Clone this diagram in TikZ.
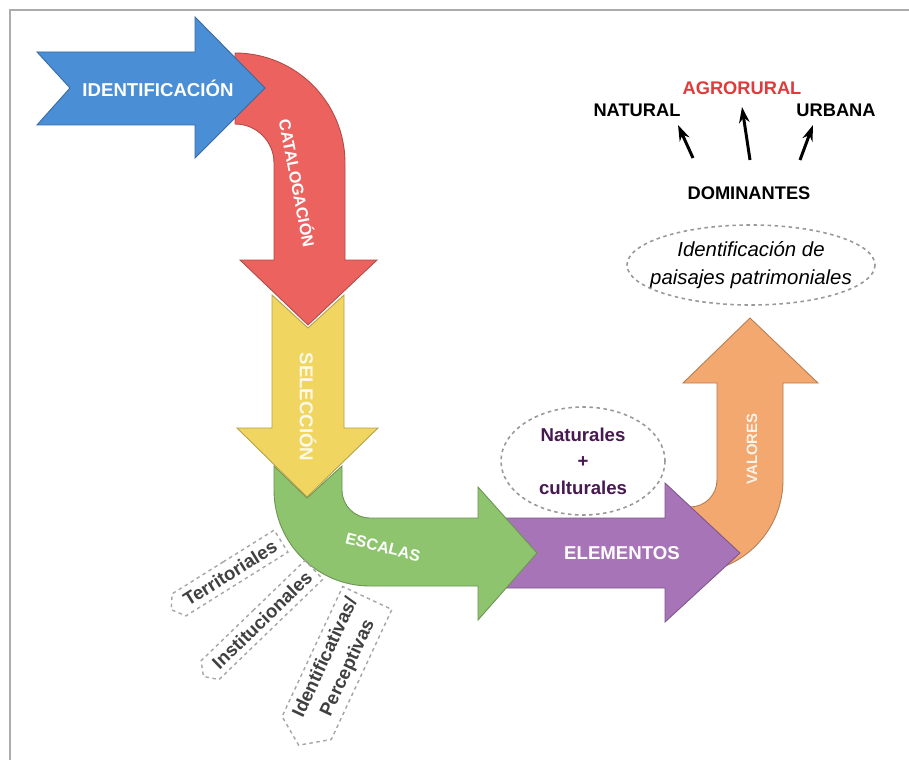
\documentclass[tikz,border=0pt]{standalone}
\usepackage{fontspec}
\setmainfont{Liberation Sans}
\usepackage{xcolor}
\usepackage{tikz}
\usetikzlibrary{arrows.meta,calc,shapes.symbols}

\definecolor{azul}{RGB}{74,142,214}
\definecolor{rojo}{RGB}{236,98,94}
\definecolor{amarillo}{RGB}{240,214,96}
\definecolor{verde}{RGB}{143,196,110}
\definecolor{morado}{RGB}{168,116,184}
\definecolor{naranja}{RGB}{242,168,110}
\definecolor{moradotexto}{RGB}{70,25,80}
\definecolor{rojotexto}{RGB}{222,60,60}

\begin{document}
\begin{tikzpicture}[x=0.02cm, y=-0.02cm,
            paso/.style={draw=#1!75!black, fill=#1, line width=0.5pt},
            rotulo/.style={text=white, font=\fontsize{10.6}{12}\selectfont\bfseries},
            tipo/.style={font=\fontsize{10.4}{12}\selectfont\bfseries},
            escala/.style={signal, signal to=west, signal pointer angle=110, draw=gray!70,
                dash pattern=on 2pt off 2pt, line width=0.8pt, text=black!75,
                inner xsep=4pt, inner ysep=3.5pt, align=center,
                font=\fontsize{10.6}{14}\selectfont\bfseries},
            nube/.style={draw=gray!80, dash pattern=on 2pt off 2pt, line width=0.9pt},
            flecha/.style={-{Stealth[length=9pt,width=6pt]}, line width=1.7pt}]

            \useasboundingbox (0,0) rectangle (909,760);
            \fill[white] (0,0) rectangle (909,760);

            % Frame
            \draw[gray!65, line width=1.6pt] (10,760) -- (10,10) -- (909,10);

            % Arrows of the sequence, back to front
            \path[paso=naranja] (690,573) arc (90:0:93) -- (783,383) -- (818,383) -- (750,318)
                -- (683,383) -- (717,383) -- (717,480) arc (0:90:27) -- cycle;
            \path[paso=morado] (490,518) -- (665,518) -- (665,483) -- (740,553) -- (665,622)
                -- (665,588) -- (490,588) -- cycle;
            \path[paso=verde] (274,466) -- (307,498) -- (342,466) -- (342,490) arc (180:90:28)
                -- (478,518) -- (478,487) -- (537,553) -- (478,620) -- (478,586) -- (370,586)
                arc (90:180:96) -- cycle;
            \path[paso=amarillo] (272,295) -- (308,328) -- (344,295) -- (344,428) -- (378,428)
                -- (307,497) -- (237,428) -- (272,428) -- cycle;
            \path[paso=rojo] (235,53) arc (-90:0:110) -- (345,260) -- (377,260) -- (308,325)
                -- (240,260) -- (274,260) -- (274,163) arc (0:-90:39) -- cycle;
            \path[paso=azul] (37,52) -- (195,52) -- (195,17) -- (265,88) -- (195,158)
                -- (195,125) -- (37,125) -- (70,88) -- cycle;

            % Labels on the arrows
            \node[rotulo] (ident) at (158,88) {IDENTIFICACIÓN};
            \node[rotulo, rotate=-79, font=\fontsize{9.2}{11}\selectfont\bfseries] (catal) at (298,183) {CATALOGACIÓN};
            \node[rotulo, rotate=-90, text=white!85!amarillo] (selec) at (308,407) {SELECCIÓN};
            \node[rotulo, rotate=-14, font=\fontsize{9.1}{11}\selectfont\bfseries] (escal) at (383,547) {ESCALAS};
            \node[rotulo] (elem) at (622,553) {ELEMENTOS};
            \node[rotulo, rotate=90, text=white!85!naranja, font=\fontsize{8.5}{10}\selectfont\bfseries] (valor) at (752,449) {VALORES};

            % Scales
            \node[escala, rotate=32] (terr) at (230,573) {Territoriales};
            \node[escala, rotate=44] (inst) at (262,620) {Institucionales};
            \node[escala, rotate=65] (perc) at (337,663) {Identificativas/\\Perceptivas};

            % Elements
            \node[tipo, text=moradotexto, align=center, font=\fontsize{10.6}{15}\selectfont\bfseries] (natcul) at (583,461) {Naturales\\+\\culturales};
            \draw[nube] (natcul.center) ellipse [x radius=82, y radius=54];

            % Heritage landscapes
            \node[align=center, font=\fontsize{11.6}{15.5}\selectfont\itshape] (paisaj) at (751,265) {Identificación de\\paisajes patrimoniales};
            \draw[nube] (paisaj.center) ellipse [x radius=124, y radius=40];

            \node[tipo] (dom) at (749,193) {DOMINANTES};
            \node[tipo] (nat) at (637,110) {NATURAL};
            \node[tipo, text=rojotexto] (agro) at (742,88) {AGRORURAL};
            \node[tipo] (urb) at (836,110) {URBANA};

            \draw[flecha] ($(dom)+(-56,-35)$) -- ($(nat)+(41,15)$);
            \draw[flecha] ($(dom)+(1,-33)$) -- ($(agro)+(0,19)$);
            \draw[flecha] ($(dom)+(51,-33)$) -- ($(urb)+(-23,15)$);
        \end{tikzpicture}
\end{document}
